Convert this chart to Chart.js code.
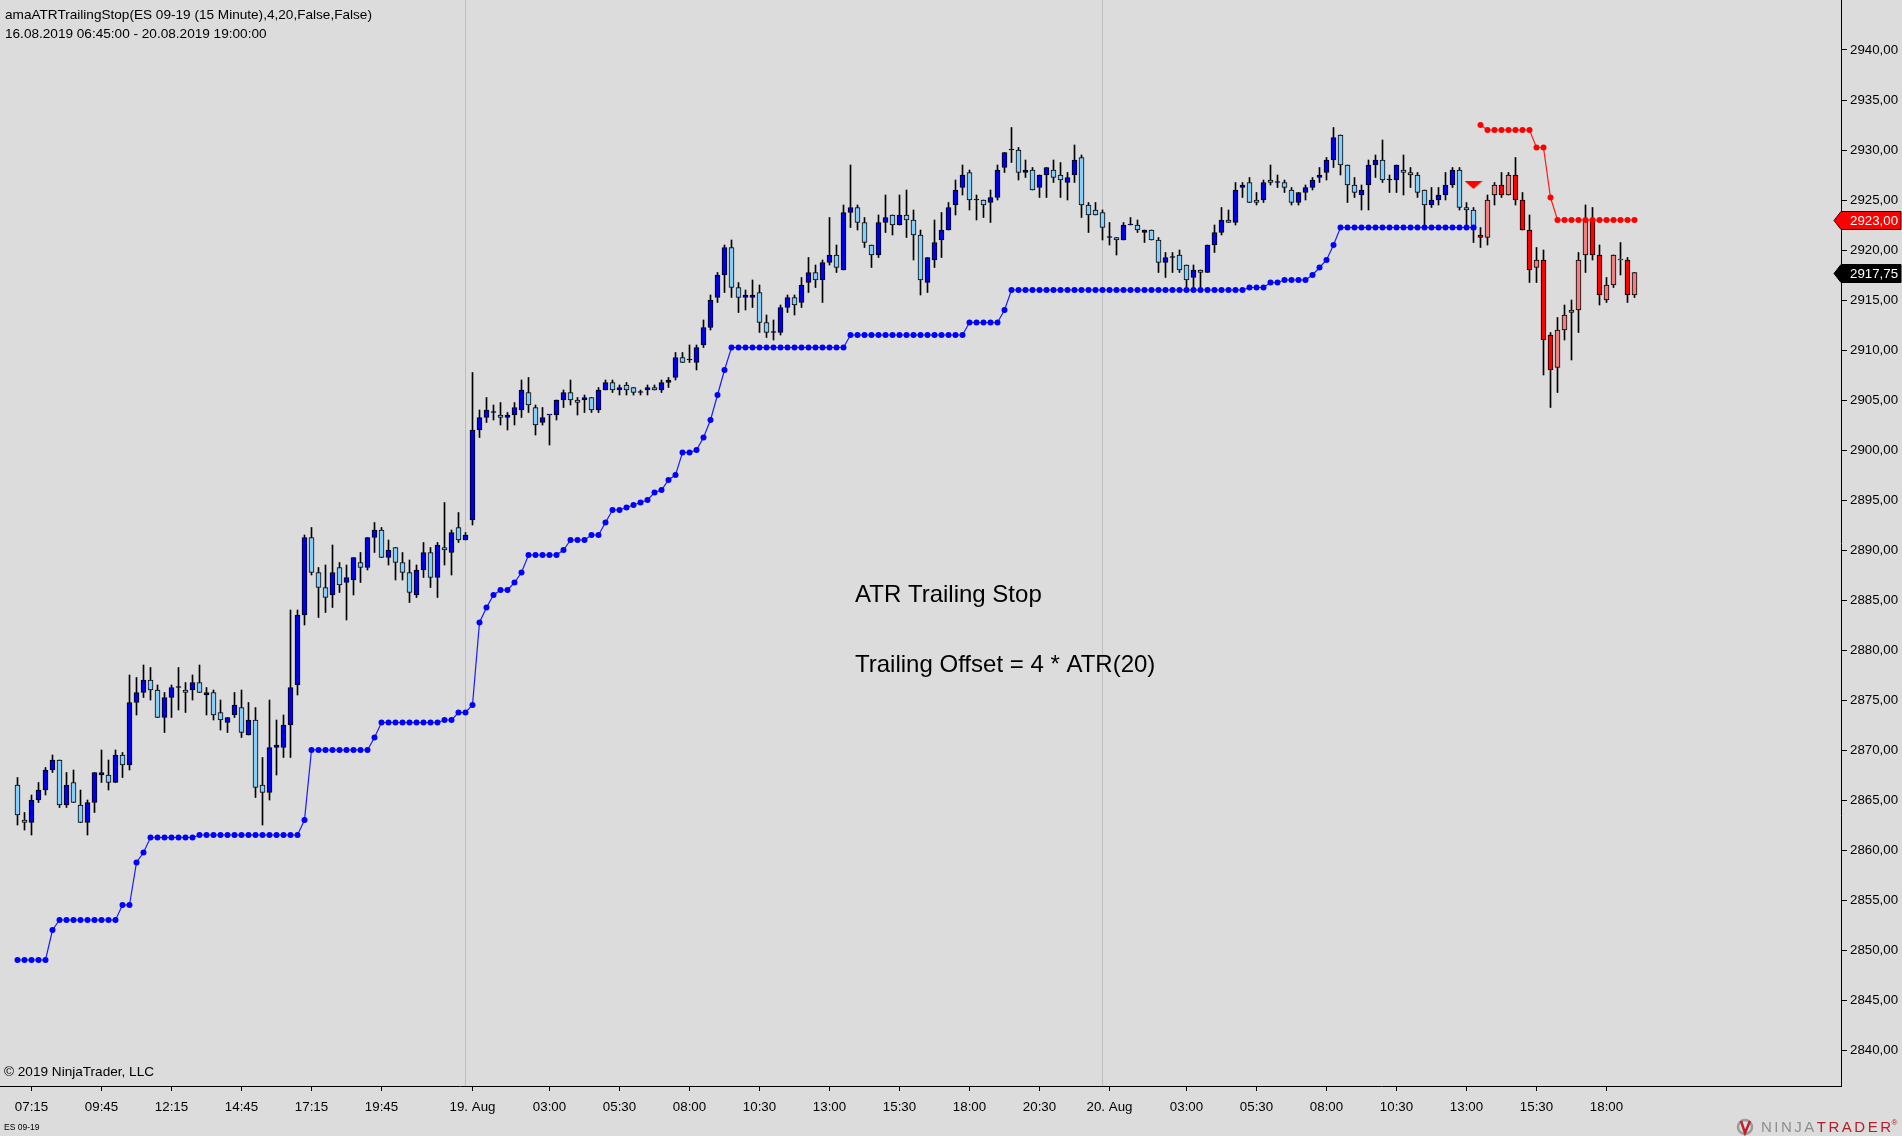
<!DOCTYPE html>
<html>
<head>
<meta charset="utf-8">
<script src="https://cdn.jsdelivr.net/npm/chart.js@4.4.1/dist/chart.umd.min.js"></script>
<style>
html,body{margin:0;padding:0;background:#DCDCDC;overflow:hidden}
canvas{display:block}
</style>
</head>
<body>
<canvas id="c" width="1902" height="1136" style="width:1902px;height:1136px"></canvas>
<script>
// ---------------- DATA (ES 09-19, 15 minute bars, index = bar number) ----------------
const open = [
2866.5,2863.0,2862.75,2865.0,2866.0,2868.0,2869.0,2864.5,2866.75,2864.5,
2862.75,2864.75,2867.5,2867.5,2866.75,2869.5,2868.5,2874.75,2875.75,2877.0,
2876.0,2873.25,2875.25,2876.25,2876.0,2876.0,2876.75,2875.5,2875.75,2873.75,
2872.75,2873.5,2874.25,2871.5,2873.0,2866.5,2865.75,2870.25,2870.25,2872.5,
2876.5,2883.5,2891.25,2887.75,2886.25,2885.5,2888.25,2886.75,2887.0,2888.75,
2888.25,2891.25,2892.0,2889.25,2890.25,2888.75,2887.75,2885.5,2888.0,2889.75,
2887.25,2890.25,2889.75,2892.25,2891.0,2893.0,2902.0,2903.25,2903.75,2903.5,
2903.25,2903.5,2904.0,2905.75,2904.25,2902.75,2903.5,2903.5,2905.0,2905.75,
2905.0,2905.0,2905.25,2904.0,2906.0,2906.75,2906.0,2906.5,2906.25,2905.75,
2906.0,2906.25,2906.0,2906.75,2907.25,2909.25,2909.0,2908.75,2910.5,2912.25,
2915.25,2917.5,2920.25,2916.25,2915.25,2915.25,2915.75,2912.75,2911.75,2911.75,
2914.25,2915.25,2914.75,2916.75,2917.75,2917.0,2918.75,2919.5,2918.0,2923.75,
2924.25,2922.75,2920.5,2919.5,2922.75,2923.5,2922.5,2923.5,2923.0,2921.5,
2916.75,2919.0,2921.0,2922.0,2924.5,2926.25,2927.75,2925.0,2925.0,2924.75,
2925.25,2928.25,2930.0,2930.0,2927.75,2928.0,2926.25,2927.5,2928.0,2927.5,
2926.75,2927.5,2929.25,2924.5,2924.0,2923.75,2921.25,2921.25,2921.0,2922.5,
2922.5,2921.75,2922.0,2921.0,2918.75,2919.25,2919.5,2918.5,2917.25,2918.0,
2917.75,2920.5,2921.75,2923.0,2922.75,2926.25,2926.75,2925.0,2925.0,2927.0,
2926.75,2926.75,2926.0,2924.75,2925.75,2926.25,2927.25,2927.75,2929.0,2931.5,
2928.5,2926.5,2925.5,2926.5,2928.5,2929.0,2927.0,2927.0,2928.0,2927.75,
2927.5,2926.0,2924.5,2925.0,2925.5,2926.5,2928.0,2924.25,2924.0,2921.5,
2921.25,2925.5,2926.5,2925.5,2927.5,2925.0,2922.0,2918.25,2919.0,2911.5,
2908.25,2912.0,2913.75,2914.0,2919.5,2923.0,2919.5,2915.0,2916.5,2919.0,
2919.0,2915.5
];
const high = [
2867.25,2863.75,2865.5,2866.75,2868.25,2869.5,2869.0,2867.75,2868.0,2866.0,
2865.0,2867.75,2870.0,2869.0,2870.0,2869.75,2877.5,2877.25,2878.5,2878.25,
2876.5,2875.75,2876.5,2878.25,2876.75,2877.5,2878.5,2876.25,2876.0,2875.0,
2873.25,2875.75,2876.0,2874.75,2874.25,2869.25,2875.0,2873.0,2873.5,2884.0,
2884.0,2891.5,2892.25,2888.25,2888.5,2890.5,2888.75,2888.5,2889.25,2889.75,
2891.25,2892.75,2892.25,2891.0,2890.25,2889.75,2889.0,2888.5,2890.75,2890.25,
2890.75,2894.75,2892.0,2893.75,2891.75,2907.75,2904.0,2905.25,2904.5,2904.75,
2903.75,2904.75,2907.0,2907.25,2904.5,2904.25,2903.5,2905.0,2906.0,2907.0,
2905.25,2905.5,2905.25,2906.25,2907.0,2907.0,2906.5,2906.75,2906.25,2906.0,
2906.5,2906.5,2907.0,2907.25,2909.75,2909.75,2910.5,2910.5,2913.0,2915.5,
2917.75,2920.5,2921.0,2916.75,2916.0,2917.0,2916.5,2913.5,2913.0,2914.5,
2915.5,2915.5,2917.25,2919.25,2918.5,2919.0,2923.25,2920.5,2924.5,2928.5,
2924.5,2923.25,2920.5,2923.5,2925.5,2923.5,2925.5,2926.0,2924.0,2922.0,
2919.25,2923.0,2923.75,2924.75,2927.0,2928.5,2928.0,2925.5,2925.0,2926.0,
2928.5,2929.75,2932.25,2930.25,2929.0,2928.25,2927.5,2928.25,2929.0,2928.75,
2927.75,2930.5,2929.5,2924.75,2924.75,2924.0,2922.75,2921.25,2922.75,2923.25,
2923.0,2922.0,2922.0,2921.25,2919.75,2919.75,2920.0,2918.5,2918.5,2918.0,
2920.5,2922.5,2924.25,2924.0,2926.75,2926.75,2927.25,2925.75,2927.0,2928.5,
2927.5,2927.0,2926.25,2925.75,2926.5,2927.25,2928.25,2929.25,2932.25,2931.5,
2928.5,2927.25,2926.5,2929.0,2929.5,2931.0,2927.5,2928.5,2929.5,2928.25,
2927.75,2926.0,2926.25,2926.25,2927.75,2928.25,2928.25,2924.75,2924.25,2922.25,
2925.5,2926.75,2927.75,2927.75,2929.25,2925.75,2923.5,2920.25,2920.0,2911.75,
2913.25,2914.5,2915.0,2919.75,2924.5,2924.25,2920.5,2917.25,2919.5,2920.75,
2919.25,2917.75
];
const low = [
2862.5,2862.0,2861.5,2864.75,2865.5,2867.75,2864.25,2864.25,2864.75,2862.75,
2861.5,2863.75,2866.75,2866.0,2866.75,2867.25,2868.0,2873.5,2875.25,2875.0,
2873.25,2871.75,2873.25,2874.0,2873.75,2875.0,2875.75,2873.5,2873.0,2872.0,
2871.75,2873.25,2871.25,2871.5,2865.25,2862.5,2865.0,2867.5,2869.25,2869.25,
2875.5,2882.5,2887.5,2883.25,2883.75,2884.25,2885.75,2883.0,2885.5,2886.75,
2888.0,2889.75,2889.25,2888.5,2887.0,2887.0,2884.75,2885.25,2887.25,2886.25,
2885.25,2888.5,2887.5,2890.75,2891.0,2892.5,2901.25,2902.75,2903.0,2902.5,
2902.0,2902.5,2903.25,2903.75,2901.5,2902.5,2900.5,2903.0,2904.25,2904.5,
2903.5,2903.75,2903.75,2903.75,2906.0,2905.75,2905.5,2905.5,2905.5,2905.5,
2905.5,2906.0,2905.75,2906.25,2907.0,2908.75,2908.75,2908.0,2910.25,2912.0,
2914.75,2915.75,2915.25,2913.75,2914.0,2914.25,2911.75,2911.25,2911.0,2911.5,
2913.75,2913.5,2914.25,2915.75,2916.25,2914.75,2918.5,2917.75,2918.0,2922.25,
2922.0,2920.25,2918.25,2919.25,2921.75,2921.5,2922.5,2921.25,2919.0,2915.5,
2915.75,2918.25,2919.25,2922.0,2923.5,2925.5,2924.0,2923.0,2923.25,2922.75,
2925.0,2927.75,2928.75,2927.0,2927.25,2926.0,2925.25,2925.25,2926.75,2925.25,
2925.0,2926.75,2923.25,2921.75,2923.5,2921.0,2920.5,2919.5,2921.0,2922.5,
2921.75,2920.75,2921.0,2917.75,2917.25,2917.75,2917.75,2916.25,2916.25,2916.25,
2917.75,2919.75,2921.5,2922.75,2922.5,2925.25,2924.75,2924.5,2924.75,2926.5,
2926.25,2925.75,2924.5,2924.5,2925.0,2926.0,2926.75,2927.0,2928.25,2927.5,
2924.75,2925.25,2924.0,2924.0,2927.25,2926.75,2925.75,2925.75,2925.5,2926.25,
2925.25,2922.25,2924.25,2924.5,2925.0,2926.25,2924.0,2922.5,2920.75,2920.25,
2920.5,2924.5,2925.25,2925.5,2924.5,2922.0,2916.75,2916.75,2907.5,2904.25,
2905.75,2911.0,2909.0,2911.75,2917.75,2919.0,2914.5,2914.75,2916.25,2917.5,
2914.75,2915.25
];
const close = [
2863.5,2862.75,2865.0,2866.0,2868.0,2869.0,2864.5,2866.5,2864.75,2862.75,
2864.75,2867.75,2867.75,2866.75,2869.5,2868.5,2874.75,2875.75,2877.0,2876.0,
2873.25,2875.25,2876.25,2876.25,2875.75,2876.75,2875.75,2875.75,2873.5,2873.0,
2873.25,2874.5,2871.75,2873.0,2866.25,2865.75,2870.25,2870.5,2872.5,2876.25,
2883.5,2891.25,2887.75,2886.25,2885.25,2887.75,2886.5,2887.25,2889.25,2888.25,
2891.25,2892.0,2889.25,2890.0,2888.75,2887.75,2885.75,2888.0,2889.75,2887.25,
2890.5,2890.0,2891.75,2891.0,2891.5,2902.0,2903.25,2904.0,2903.75,2903.25,
2903.5,2904.25,2906.0,2904.5,2902.5,2903.25,2903.5,2905.0,2905.75,2905.0,
2904.75,2905.25,2904.0,2906.0,2906.75,2906.0,2906.25,2906.0,2905.75,2905.75,
2906.25,2906.0,2906.75,2907.0,2909.25,2908.75,2909.0,2910.25,2912.25,2915.0,
2917.5,2920.25,2916.25,2915.25,2915.5,2915.5,2912.75,2911.75,2911.75,2914.25,
2915.25,2914.5,2916.5,2917.75,2917.0,2918.75,2919.5,2918.25,2923.75,2924.25,
2922.75,2920.75,2919.5,2922.75,2923.25,2922.5,2923.5,2923.0,2921.5,2917.0,
2919.25,2920.75,2922.0,2924.25,2926.0,2927.5,2925.0,2925.0,2924.5,2925.25,
2928.0,2929.75,2930.0,2927.75,2928.0,2926.0,2927.5,2928.25,2927.25,2927.0,
2927.25,2929.0,2924.5,2923.5,2923.5,2922.25,2921.25,2921.0,2922.5,2922.5,
2922.0,2922.0,2921.0,2918.75,2919.25,2919.25,2918.0,2917.0,2918.0,2917.75,
2920.5,2921.75,2923.0,2922.75,2926.0,2926.5,2924.75,2924.75,2926.75,2926.75,
2926.75,2926.25,2924.75,2925.75,2926.25,2927.0,2927.5,2929.0,2931.25,2928.5,
2926.5,2925.75,2926.0,2928.5,2929.0,2927.0,2927.0,2928.5,2927.75,2927.5,
2925.75,2924.5,2925.0,2925.5,2926.5,2928.0,2924.25,2924.0,2922.0,2921.25,
2925.0,2926.5,2925.5,2927.5,2925.0,2922.0,2918.0,2919.0,2911.0,2908.0,
2912.0,2913.5,2914.0,2919.0,2923.0,2919.5,2915.5,2916.5,2919.5,2919.0,
2915.5,2917.75
];
// ATR trailing stop, long phase (bars 0..208)
const stopLong = [
2849.0,2849.0,2849.0,2849.0,2849.0,2852.0,2853.0,2853.0,2853.0,2853.0,
2853.0,2853.0,2853.0,2853.0,2853.0,2854.5,2854.5,2858.75,2859.75,2861.25,
2861.25,2861.25,2861.25,2861.25,2861.25,2861.25,2861.5,2861.5,2861.5,2861.5,
2861.5,2861.5,2861.5,2861.5,2861.5,2861.5,2861.5,2861.5,2861.5,2861.5,
2861.5,2863.0,2870.0,2870.0,2870.0,2870.0,2870.0,2870.0,2870.0,2870.0,
2870.0,2871.25,2872.75,2872.75,2872.75,2872.75,2872.75,2872.75,2872.75,2872.75,
2872.75,2873.0,2873.0,2873.75,2873.75,2874.5,2882.75,2884.25,2885.5,2886.0,
2886.0,2886.75,2887.75,2889.5,2889.5,2889.5,2889.5,2889.5,2890.0,2891.0,
2891.0,2891.0,2891.5,2891.5,2892.75,2894.0,2894.0,2894.25,2894.5,2894.75,
2895.0,2895.75,2896.0,2897.0,2897.5,2899.75,2899.75,2900.0,2901.25,2903.0,
2905.5,2908.0,2910.25,2910.25,2910.25,2910.25,2910.25,2910.25,2910.25,2910.25,
2910.25,2910.25,2910.25,2910.25,2910.25,2910.25,2910.25,2910.25,2910.25,2911.5,
2911.5,2911.5,2911.5,2911.5,2911.5,2911.5,2911.5,2911.5,2911.5,2911.5,
2911.5,2911.5,2911.5,2911.5,2911.5,2911.5,2912.75,2912.75,2912.75,2912.75,
2912.75,2914.0,2916.0,2916.0,2916.0,2916.0,2916.0,2916.0,2916.0,2916.0,
2916.0,2916.0,2916.0,2916.0,2916.0,2916.0,2916.0,2916.0,2916.0,2916.0,
2916.0,2916.0,2916.0,2916.0,2916.0,2916.0,2916.0,2916.0,2916.0,2916.0,
2916.0,2916.0,2916.0,2916.0,2916.0,2916.0,2916.25,2916.25,2916.25,2916.75,
2916.75,2917.0,2917.0,2917.0,2917.0,2917.5,2918.25,2919.0,2920.5,2922.25,
2922.25,2922.25,2922.25,2922.25,2922.25,2922.25,2922.25,2922.25,2922.25,2922.25,
2922.25,2922.25,2922.25,2922.25,2922.25,2922.25,2922.25,2922.25,2922.25
];
// ATR trailing stop, short phase (bars 209..231)
const stopShort = [
2932.5,2932.0,2932.0,2932.0,2932.0,2932.0,2932.0,2932.0,2930.25,2930.25,
2925.25,2923.0,2923.0,2923.0,2923.0,2923.0,2923.0,2923.0,2923.0,2923.0,
2923.0,2923.0,2923.0
];
// reversal signal (down triangle)
const signalBar = [208];
const signalPrice = [2926.5];
// session (day) break bars
const dayBreaks = [64, 155];
// axis ticks
const xTickIdx  = [2,12,22,32,42,52,65,76,86,96,106,116,126,136,146,156,167,177,187,197,207,217,227];
const xTickText = ['07:15','09:45','12:15','14:45','17:15','19:45','19. Aug','03:00','05:30','08:00','10:30','13:00','15:30','18:00','20:30','20. Aug','03:00','05:30','08:00','10:30','13:00','15:30','18:00'];
const yTicks = [2840,2845,2850,2855,2860,2865,2870,2875,2880,2885,2890,2895,2900,2905,2910,2915,2920,2925,2930,2935,2940];

// ---------------- BUILD ----------------
const FONT = '"Liberation Sans", Arial, sans-serif';
const shortStart = stopLong.length;
const idx = open.map((_, i) => i);
const wickData = idx.map(i => ({x: i, y: [low[i], high[i]]}));
const bodyData = idx.map(i => ({x: i, y: [open[i], close[i]]}));
const longData = stopLong.map((v, i) => ({x: i, y: v}));
const shortData = stopShort.map((v, k) => ({x: shortStart + k, y: v}));
const sigData = signalBar.map((b, k) => ({x: b, y: signalPrice[k]}));

function bodyColor(ctx) {
  const i = ctx.dataIndex;
  const up = close[i] >= open[i];
  if (i >= shortStart) return up ? '#F08080' : '#FF0000';
  return up ? '#0000E6' : '#87CEFA';
}

// flat down-triangle marker
const tri = document.createElement('canvas');
tri.width = 18; tri.height = 8;
(function(){
  const t = tri.getContext('2d');
  t.fillStyle = '#FF0000';
  t.beginPath(); t.moveTo(0, 0); t.lineTo(18, 0); t.lineTo(9, 8); t.closePath(); t.fill();
})();

const overlay = {
  id: 'overlay',
  beforeDatasetsDraw(chart) {
    const {ctx, chartArea: a, scales: {x}} = chart;
    ctx.save();
    ctx.strokeStyle = '#BDBDBD';
    ctx.lineWidth = 1;
    dayBreaks.forEach(b => {
      const px = Math.floor(x.getPixelForValue(b)) + 0.5;
      ctx.beginPath(); ctx.moveTo(px, a.top); ctx.lineTo(px, a.bottom); ctx.stroke();
    });
    ctx.restore();
  },
  afterDraw(chart) {
    const {ctx, scales: {y}} = chart;
    ctx.save();
    ctx.fillStyle = '#000';
    ctx.textBaseline = 'alphabetic';
    ctx.textAlign = 'left';
    ctx.font = '13.6px ' + FONT;
    ctx.fillText('amaATRTrailingStop(ES 09-19 (15 Minute),4,20,False,False)', 5, 19);
    ctx.fillText('16.08.2019 06:45:00 - 20.08.2019 19:00:00', 5, 37.5);
    ctx.fillText('\u00A9 2019 NinjaTrader, LLC', 4, 1076);
    ctx.font = '8.5px ' + FONT;
    ctx.fillText('ES 09-19', 4, 1130);
    ctx.font = '24px ' + FONT;
    ctx.fillText('ATR Trailing Stop', 855, 602);
    ctx.fillText('Trailing Offset = 4 * ATR(20)', 855, 672);

    // price markers on the axis
    function marker(val, fill, stroke) {
      const yy = Math.round(y.getPixelForValue(val)) + 0.5;
      const h = 18, xTip = 1834, xL = 1841, xR = 1901;
      ctx.beginPath();
      ctx.moveTo(xTip, yy);
      ctx.lineTo(xL, yy - h / 2);
      ctx.lineTo(xR, yy - h / 2);
      ctx.lineTo(xR, yy + h / 2);
      ctx.lineTo(xL, yy + h / 2);
      ctx.closePath();
      ctx.fillStyle = fill; ctx.fill();
      ctx.strokeStyle = stroke; ctx.lineWidth = 1; ctx.stroke();
      ctx.fillStyle = '#FFFFFF';
      ctx.font = '13.3px ' + FONT;
      ctx.textBaseline = 'middle';
      ctx.fillText(val.toFixed(2).replace('.', ','), 1850, yy + 0.5);
    }
    marker(stopShort[stopShort.length - 1], '#FF0000', '#300000');
    marker(close[close.length - 1], '#000000', '#000000');

    // NinjaTrader logo
    ctx.textBaseline = 'alphabetic';
    ctx.beginPath(); ctx.arc(1745, 1127, 7, 0, Math.PI * 2);
    ctx.strokeStyle = '#9A9A9A'; ctx.lineWidth = 2.5; ctx.stroke();
    ctx.beginPath(); ctx.moveTo(1741, 1121); ctx.lineTo(1745, 1133); ctx.lineTo(1750, 1121);
    ctx.strokeStyle = '#C0202A'; ctx.lineWidth = 2.5; ctx.stroke();
    ctx.font = '15px ' + FONT;
    try { ctx.letterSpacing = '2.5px'; } catch (e) {}
    ctx.fillStyle = '#8E8E8E';
    ctx.fillText('NINJA', 1761, 1132);
    const w = ctx.measureText('NINJA').width;
    ctx.fillStyle = '#B3202A';
    ctx.fillText('TRADER', 1761 + w, 1132);
    const w2 = ctx.measureText('TRADER').width;
    try { ctx.letterSpacing = '0px'; } catch (e) {}
    ctx.font = '8px ' + FONT;
    ctx.fillText('\u00AE', 1761 + w + w2 - 2, 1125);
    ctx.restore();
  }
};

new Chart(document.getElementById('c'), {
  type: 'bar',
  data: {
    datasets: [
      {type: 'bar', data: wickData, backgroundColor: '#000000', borderWidth: 0, barThickness: 1, grouped: false, order: 4},
      {type: 'bar', data: bodyData, backgroundColor: bodyColor, borderColor: '#000000', borderWidth: 1, borderSkipped: false, barThickness: 5, minBarLength: 1, grouped: false, order: 3},
      {type: 'line', data: longData, borderColor: '#1A1AFF', borderWidth: 1.2, pointRadius: 3, pointBackgroundColor: '#0000FF', pointBorderWidth: 0, tension: 0, order: 2},
      {type: 'line', data: shortData, borderColor: '#FF1A1A', borderWidth: 1.2, pointRadius: 3, pointBackgroundColor: '#FF0000', pointBorderWidth: 0, tension: 0, order: 1},
      {type: 'line', data: sigData, showLine: false, pointStyle: tri, pointRadius: 9, order: 0}
    ]
  },
  options: {
    responsive: false,
    animation: false,
    events: [],
    layout: {padding: 0, autoPadding: false},
    plugins: {legend: {display: false}, tooltip: {enabled: false}},
    scales: {
      x: {
        type: 'linear', position: 'bottom', min: -2.5, max: 260.5, offset: false,
        afterBuildTicks: s => { s.ticks = xTickIdx.map(v => ({value: v})); },
        afterFit: s => { s.height = 50; s.paddingLeft = 0; s.paddingRight = 0; },
        ticks: {autoSkip: false, maxRotation: 0, minRotation: 0, color: '#000', padding: 8,
                font: {family: FONT, size: 13.3}, callback: (v, i) => xTickText[i]},
        grid: {drawOnChartArea: false, drawTicks: true, tickLength: 5, color: '#000', offset: false},
        border: {display: true, color: '#000', width: 1}
      },
      y: {
        type: 'linear', position: 'right', min: 2836.4, max: 2945,
        afterBuildTicks: s => { s.ticks = yTicks.map(v => ({value: v})); },
        afterFit: s => { s.width = 61; s.paddingTop = 0; s.paddingBottom = 0; },
        ticks: {color: '#000', padding: 3, font: {family: FONT, size: 13.3},
                callback: v => Number(v).toFixed(2).replace('.', ',')},
        grid: {drawOnChartArea: false, drawTicks: true, tickLength: 6, color: '#000'},
        border: {display: true, color: '#000', width: 1}
      }
    }
  },
  plugins: [overlay]
});
</script>
</body>
</html>
